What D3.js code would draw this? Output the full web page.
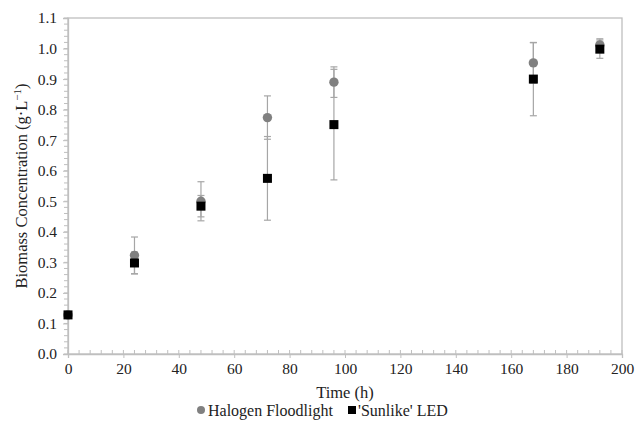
<!DOCTYPE html>
<html>
<head>
<meta charset="utf-8">
<script src="https://cdn.jsdelivr.net/npm/d3@7"></script>
<style>
  body { margin: 0; background: #fff; }
  svg text { font-family: "Liberation Serif", "Times New Roman", serif; fill: #222; }
</style>
</head>
<body>
<div id="chart"></div>
<script>
// time points (h)
const hours = [0, 24, 48, 72, 96, 168, 192];

// Halogen Floodlight: mean and error
const halogen = [0.128, 0.323, 0.500, 0.774, 0.890, 0.953, 1.012];
const halogenErr = [0, 0.06, 0.064, 0.071, 0.05, 0.066, 0.02];

// 'Sunlike' LED: mean and error
const led = [0.128, 0.298, 0.484, 0.575, 0.751, 0.900, 0.998];
const ledErr = [0, 0.036, 0.035, 0.137, 0.181, 0.12, 0.03];

const xTicks = [0, 20, 40, 60, 80, 100, 120, 140, 160, 180, 200];
const yTicks = [0, 0.1, 0.2, 0.3, 0.4, 0.5, 0.6, 0.7, 0.8, 0.9, 1.0, 1.1];

function main() {
    const W = 644, H = 428;
    const margin = {top: 18, right: 22, bottom: 74, left: 68},
        width = W - margin.left - margin.right,
        height = H - margin.top - margin.bottom;

    const svg = d3.select("#chart")
        .append("svg")
        .attr("width", W)
        .attr("height", H);

    const g = svg.append("g")
        .attr("transform", `translate(${margin.left}, ${margin.top})`);

    const x = d3.scaleLinear().domain([0, 200]).range([0, width]);
    const y = d3.scaleLinear().domain([0, 1.1]).range([height, 0]);

    const axisColor = "#bfbfbf";

    // plot border
    g.append("rect")
        .attr("x", 0).attr("y", 0)
        .attr("width", width).attr("height", height)
        .attr("fill", "none")
        .attr("stroke", axisColor)
        .attr("stroke-width", 1.3);

    // minor ticks
    const xMinor = d3.range(0, 201, 4);
    g.append("g").selectAll("line")
        .data(xMinor)
        .enter().append("line")
        .attr("x1", d => x(d)).attr("x2", d => x(d))
        .attr("y1", height).attr("y2", height - 4)
        .attr("stroke", axisColor);

    const yMinor = d3.range(0, 56).map(i => i * 0.02);
    g.append("g").selectAll("line")
        .data(yMinor)
        .enter().append("line")
        .attr("x1", 0).attr("x2", -4)
        .attr("y1", d => y(d)).attr("y2", d => y(d))
        .attr("stroke", axisColor);

    // X axis
    const xAxis = g.append("g")
        .attr("transform", `translate(0, ${height})`)
        .call(d3.axisBottom(x).tickValues(xTicks).tickSize(4).tickPadding(5).tickFormat(d3.format("d")));
    xAxis.attr("font-family", null);
    xAxis.select(".domain").attr("stroke", axisColor).attr("stroke-width", 1.3);
    xAxis.selectAll(".tick line").attr("stroke", axisColor);
    xAxis.selectAll("text").attr("font-size", "15.5px").attr("fill", "#222");

    // Y axis
    const yAxis = g.append("g")
        .call(d3.axisLeft(y).tickValues(yTicks).tickSize(5).tickPadding(6).tickFormat(d3.format(".1f")));
    yAxis.attr("font-family", null);
    yAxis.select(".domain").attr("stroke", axisColor).attr("stroke-width", 1.3);
    yAxis.selectAll(".tick line").attr("stroke", axisColor);
    yAxis.selectAll("text").attr("font-size", "15.5px").attr("fill", "#222");

    const series = [
        {name: "Halogen Floodlight", vals: halogen, err: halogenErr, color: "#808080", shape: "circle"},
        {name: "'Sunlike' LED", vals: led, err: ledErr, color: "#000000", shape: "square"}
    ];

    // error bars
    series.forEach(s => {
        const eb = g.append("g");
        hours.forEach((h, i) => {
            if (!s.err[i]) return;
            const cx = x(h), lo = y(s.vals[i] - s.err[i]), hi = y(s.vals[i] + s.err[i]);
            eb.append("line").attr("x1", cx).attr("x2", cx).attr("y1", lo).attr("y2", hi)
                .attr("stroke", "#a6a6a6").attr("stroke-width", 1.2);
            [lo, hi].forEach(v => {
                eb.append("line").attr("x1", cx - 3.5).attr("x2", cx + 3.5).attr("y1", v).attr("y2", v)
                    .attr("stroke", "#a6a6a6").attr("stroke-width", 1.2);
            });
        });
    });

    // points
    series.forEach(s => {
        const pts = g.append("g").selectAll("p")
            .data(hours.map((h, i) => ({h: h, v: s.vals[i]})))
            .enter();
        if (s.shape === "circle") {
            pts.append("circle")
                .attr("cx", d => x(d.h)).attr("cy", d => y(d.v))
                .attr("r", 4.7).attr("fill", s.color);
        } else {
            pts.append("rect")
                .attr("x", d => x(d.h) - 4.5).attr("y", d => y(d.v) - 4.5)
                .attr("width", 9).attr("height", 9).attr("fill", s.color);
        }
    });

    // axis titles
    svg.append("text")
        .attr("x", margin.left + width / 2)
        .attr("y", 398)
        .attr("text-anchor", "middle")
        .attr("font-size", "16.5px")
        .text("Time (h)");

    const yl = svg.append("text")
        .attr("transform", `translate(27, ${margin.top + height / 2}) rotate(-90)`)
        .attr("text-anchor", "middle")
        .attr("font-size", "16.5px");
    yl.append("tspan").text("Biomass Concentration (g·L");
    yl.append("tspan").attr("dy", -6).attr("font-size", "11px").text("−1");
    yl.append("tspan").attr("dy", 6).text(")");

    // legend
    const leg = svg.append("g").attr("transform", "translate(0, 410)");
    leg.append("circle").attr("cx", 201).attr("cy", 0).attr("r", 4).attr("fill", "#808080");
    leg.append("text").attr("x", 208).attr("y", 5.5).attr("font-size", "16px").text("Halogen Floodlight");
    leg.append("rect").attr("x", 348).attr("y", -4).attr("width", 8).attr("height", 8).attr("fill", "#000");
    leg.append("text").attr("x", 358).attr("y", 5.5).attr("font-size", "16px").text("'Sunlike' LED");
}

main()
</script>
</body>
</html>
